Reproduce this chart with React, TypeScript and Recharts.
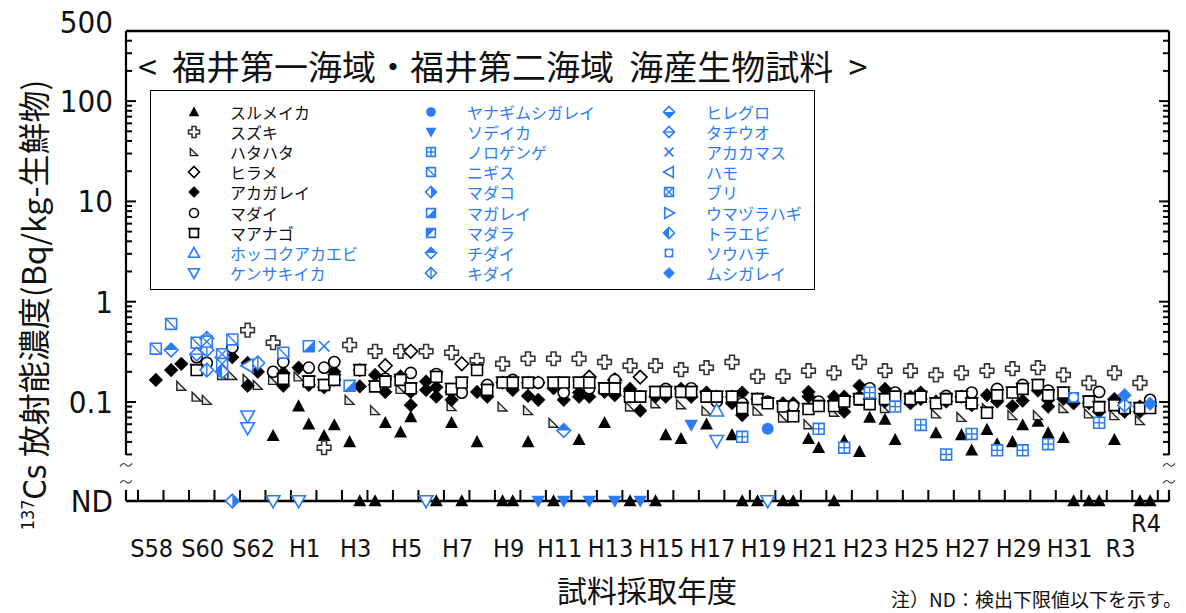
import React from "react";
import { ScatterChart, Scatter, XAxis, YAxis, ReferenceLine, ReferenceDot } from "recharts";

// [fiscal year, half (1 = first half, 2 = second half), Bq/kg or ND]
const ND = "ND";
type Pt = [number, number, number | string];

const surumeika: Pt[] = [
  [1988,1,0.046],[1989,1,0.091],[1989,2,0.06],[1990,1,0.046],[1990,2,0.059],[1991,1,0.04],[1991,2,ND],
  [1992,1,ND],[1992,2,0.062],[1993,1,0.05],[1993,2,0.071],[1994,2,ND],[1995,1,0.062],[1995,2,ND],
  [1996,1,0.04],[1997,1,ND],[1997,2,ND],[1998,1,0.04],[1999,1,ND],[2000,1,0.042],[2001,1,0.062],
  [2002,1,ND],[2003,1,ND],[2003,2,0.047],[2004,1,0.043],[2005,1,0.06],[2006,1,0.047],[2006,2,ND],
  [2007,1,ND],[2008,1,ND],[2008,2,ND],[2009,1,0.043],[2009,2,0.035],[2010,1,ND],[2010,2,0.041],
  [2011,1,0.032],[2011,2,0.07],[2012,1,0.067],[2012,2,0.042],[2014,1,0.049],[2015,1,0.047],[2015,2,0.033],
  [2016,1,0.053],[2016,2,0.038],[2017,1,0.04],[2017,2,0.059],[2018,1,0.064],[2018,2,0.049],[2019,1,0.044],
  [2019,2,ND],[2020,1,ND],[2020,2,ND],[2021,1,0.042],[2022,1,ND],[2022,2,ND],
];
const suzuki: Pt[] = [
  [1987,1,0.52],[1988,1,0.39],[1990,1,0.035],[1991,1,0.37],[1992,1,0.32],[1993,1,0.32],[1994,1,0.32],
  [1995,1,0.31],[1996,1,0.26],[1997,1,0.24],[1998,1,0.27],[1999,1,0.27],[2000,1,0.27],[2001,1,0.25],
  [2002,1,0.23],[2003,1,0.23],[2004,1,0.21],[2005,1,0.22],[2006,1,0.25],[2007,1,0.18],[2008,1,0.18],
  [2009,1,0.205],[2010,1,0.195],[2011,1,0.25],[2012,1,0.205],[2013,1,0.205],[2014,1,0.186],[2015,1,0.195],
  [2016,1,0.205],[2017,1,0.215],[2018,1,0.22],[2019,1,0.186],[2020,1,0.155],[2021,1,0.195],[2022,1,0.155],
];
const hatahata: Pt[] = [
  [1984,2,0.145],[1985,1,0.113],[1985,2,0.105],[1986,1,0.186],[1986,2,0.186],[1987,1,0.17],[1987,2,0.148],
  [1988,1,0.166],[1989,1,0.18],[1991,1,0.105],[1992,1,0.083],[1993,1,0.135],[1995,1,0.091],[1997,1,0.09],
  [1998,1,0.083],[1999,1,0.062],[2002,1,0.09],[2003,1,0.097],[2004,1,0.095],[2005,1,0.082],[2007,1,0.082],
  [2008,1,0.07],[2009,1,0.06],[2010,1,0.08],[2011,1,0.103],[2012,1,0.087],[2014,1,0.077],[2015,1,0.071],
  [2016,1,0.087],[2017,1,0.074],[2018,1,0.074],[2019,1,0.087],[2020,1,0.077],[2021,1,0.074],[2022,1,0.066],
];
const hirame: Pt[] = [[1992,2,0.23],[1993,2,0.32],[1995,2,0.24],[2000,2,0.177],[2001,2,0.166],[2002,2,0.177]];
const akagarei: Pt[] = [
  [1983,2,0.166],[1984,1,0.208],[1984,2,0.24],[1986,2,0.28],[1987,1,0.245],[1987,1,0.145],[1987,2,0.2],
  [1988,2,0.195],[1988,2,0.145],[1989,1,0.22],[1989,2,0.148],[1990,1,0.14],[1990,2,0.2],[1990,2,0.166],
  [1991,2,0.208],[1991,2,0.143],[1992,1,0.186],[1992,1,0.148],[1992,2,0.126],[1993,1,0.18],[1993,2,0.126],
  [1993,2,0.093],[1994,1,0.16],[1994,1,0.132],[1994,2,0.14],[1994,2,0.113],[1995,1,0.126],[1995,1,0.105],
  [1996,1,0.126],[1996,2,0.113],[1997,1,0.156],[1997,2,0.132],[1998,1,0.156],[1998,1,0.115],[1998,2,0.156],
  [1998,2,0.105],[1999,1,0.137],[1999,2,0.105],[2000,1,0.124],[2000,1,0.113],[2000,2,0.113],[2001,1,0.126],
  [2001,2,0.117],[2002,1,0.135],[2002,1,0.113],[2002,2,0.082],[2003,1,0.113],[2003,2,0.113],[2004,1,0.135],
  [2004,2,0.113],[2005,1,0.124],[2005,2,0.113],[2006,1,0.113],[2006,1,0.097],[2006,2,0.124],[2006,2,0.074],
  [2007,1,0.107],[2008,1,0.097],[2008,2,0.097],[2009,1,0.126],[2009,1,0.113],[2010,1,0.113],[2010,1,0.101],
  [2010,2,0.113],[2010,2,0.08],[2011,1,0.145],[2011,1,0.113],[2012,1,0.135],[2012,1,0.101],[2013,1,0.113],
  [2013,1,0.097],[2013,2,0.124],[2013,2,0.107],[2014,1,0.101],[2014,2,0.101],[2015,1,0.113],[2015,2,0.093],
  [2016,1,0.117],[2016,2,0.101],[2017,1,0.091],[2017,2,0.103],[2018,1,0.13],[2018,2,0.105],[2018,2,0.09],
  [2019,1,0.107],[2019,2,0.097],[2020,1,0.097],[2020,2,0.08],[2021,1,0.107],[2021,2,0.08],[2022,1,0.09],
  [2022,1,0.08],[2022,2,0.091],
];
const madai: Pt[] = [
  [1985,1,0.28],[1985,2,0.245],[1986,2,0.35],[1988,1,0.2],[1988,2,0.25],[1989,2,0.22],[1990,1,0.22],
  [1990,2,0.25],[1992,2,0.17],[1993,2,0.195],[1994,2,0.19],[1995,2,0.124],[1996,2,0.148],[1997,2,0.166],
  [1998,2,0.156],[1999,2,0.124],[2000,2,0.137],[2001,2,0.166],[2002,2,0.113],[2003,2,0.135],[2004,2,0.137],
  [2005,2,0.101],[2006,2,0.097],[2007,2,0.101],[2008,2,0.091],[2009,2,0.101],[2010,2,0.101],[2011,2,0.137],
  [2012,2,0.124],[2013,2,0.113],[2014,2,0.115],[2015,2,0.124],[2016,2,0.135],[2017,2,0.148],[2018,2,0.13],
  [2020,2,0.126],[2022,2,0.105],
];
const maanago: Pt[] = [
  [1985,1,0.208],[1988,2,0.17],[1989,2,0.16],[1990,1,0.148],[1990,2,0.166],[1991,2,0.208],[1992,1,0.143],
  [1992,2,0.16],[1993,1,0.166],[1993,2,0.137],[1994,2,0.178],[1995,1,0.135],[1995,2,0.156],[1996,1,0.208],
  [1996,2,0.132],[1997,1,0.156],[1997,2,0.156],[1998,1,0.156],[1999,1,0.156],[1999,2,0.156],[2000,1,0.156],
  [2000,2,0.156],[2001,1,0.137],[2001,2,0.137],[2002,1,0.113],[2002,2,0.113],[2003,1,0.126],[2003,2,0.126],
  [2004,1,0.126],[2004,2,0.126],[2005,1,0.113],[2005,2,0.113],[2006,1,0.113],[2006,2,0.087],[2007,1,0.107],
  [2007,2,0.097],[2008,1,0.09],[2008,2,0.072],[2009,1,0.085],[2009,2,0.091],[2010,1,0.091],[2010,2,0.101],
  [2011,1,0.107],[2011,2,0.095],[2012,1,0.107],[2012,2,0.113],[2013,1,0.107],[2013,2,0.113],[2014,1,0.097],
  [2014,2,0.107],[2015,1,0.113],[2015,2,0.097],[2016,1,0.078],[2016,2,0.117],[2017,1,0.124],[2017,2,0.135],
  [2018,1,0.148],[2018,2,0.117],[2019,1,0.124],[2020,1,0.101],[2020,2,0.089],[2021,1,0.093],[2021,2,0.087],
  [2022,1,0.087],[2022,2,0.087],
];
const hokkokuakaebi: Pt[] = [[2005,2,0.082]];
const kensakiika: Pt[] = [[1987,1,0.072],[1987,1,0.055],[1988,1,ND],[1989,1,ND],[1994,1,ND],[2005,2,0.041],[2007,2,ND]];
const yanagimushigarei: Pt[] = [[2007,2,0.054]];
const sodeika: Pt[] = [[1998,2,ND],[1999,2,ND],[2000,2,ND],[2001,2,ND],[2002,2,ND],[2004,2,0.059]];
const norogenge: Pt[] = [
  [2006,2,0.045],[2009,2,0.054],[2010,2,0.035],[2011,2,0.124],[2012,2,0.09],[2013,2,0.059],[2014,2,0.03],
  [2015,2,0.048],[2016,2,0.033],[2017,2,0.033],[2018,2,0.038],[2020,2,0.062],
];
const nigisu: Pt[] = [[1983,2,0.34],[1984,1,0.6],[1985,1,0.39],[1986,2,0.42],[1988,2,0.31]];
const madako: Pt[] = [[1986,2,ND]];
const magarei: Pt[] = [[1989,2,0.36],[1991,1,0.145]];
const madara: Pt[] = [];
const chidai: Pt[] = [[1984,1,0.33],[1999,2,0.052]];
const kidai: Pt[] = [[1985,2,0.43],[1985,2,0.33],[1985,2,0.208],[1986,1,0.28],[1987,2,0.245],[2021,2,0.093]];
const hireguro: Pt[] = [];
const tachiuo: Pt[] = [[1985,1,0.3]];
const akakamasu: Pt[] = [[1990,1,0.36]];
const hamo: Pt[] = [[1987,1,0.23]];
const buri: Pt[] = [[1985,2,0.4],[1986,1,0.3],[1986,1,0.24]];
const umazurahagi: Pt[] = [];
const toraebi: Pt[] = [[1986,1,0.2]];
const souhachi: Pt[] = [[2019,2,0.111]];
const mushigarei: Pt[] = [[2021,2,0.117],[2022,2,0.096]];

const LABEL_YEARS = [1983,1985,1987,1989,1991,1993,1995,1997,1999,2001,2003,2005,2007,2009,2011,2013,2015,2017,2019,2021,2022];
const Y_MAJOR = [100, 10, 1, 0.1];
const Y_MINOR = [400,300,200,90,80,70,60,50,40,30,20,9,8,7,6,5,4,3,2,0.9,0.8,0.7,0.6,0.5,0.4,0.3,0.2,0.09,0.08,0.07,0.06,0.05,0.04,0.03];

const BLUE = "#2b7cf6";
const CJK = "'Noto Sans CJK JP', 'Noto Sans', sans-serif";
const NARROW = "'Liberation Sans Narrow', 'DejaVu Sans Condensed', sans-serif";

// axis layout (log axis, ND row sits below a break)
const X_MIN = 1982.53, X_MAX = 2023.44;
const Y_TOP = 500, ND_Y = 0.0103, AXIS_LOW = 0.0296, STUB_TOP = 0.0133;
const TILDES = [0.0236, 0.016];

const SPECIES = [
  { name: "スルメイカ", kind: "triUp", color: "#000", data: surumeika },
  { name: "スズキ", kind: "plus", color: "#000", data: suzuki },
  { name: "ハタハタ", kind: "rightTri", color: "#000", data: hatahata },
  { name: "ヒラメ", kind: "diamondOpen", color: "#000", data: hirame },
  { name: "アカガレイ", kind: "diamondFill", color: "#000", data: akagarei },
  { name: "マダイ", kind: "circleOpen", color: "#000", data: madai },
  { name: "マアナゴ", kind: "squareOpen", color: "#000", data: maanago },
  { name: "ホッコクアカエビ", kind: "triUpOpen", color: BLUE, data: hokkokuakaebi },
  { name: "ケンサキイカ", kind: "triDownOpen", color: BLUE, data: kensakiika },
  { name: "ヤナギムシガレイ", kind: "circleFill", color: BLUE, data: yanagimushigarei },
  { name: "ソデイカ", kind: "triDownFill", color: BLUE, data: sodeika },
  { name: "ノロゲンゲ", kind: "squareGrid", color: BLUE, data: norogenge },
  { name: "ニギス", kind: "squareSlash", color: BLUE, data: nigisu },
  { name: "マダコ", kind: "diamondRightHalf", color: BLUE, data: madako },
  { name: "マガレイ", kind: "squareLRHalf", color: BLUE, data: magarei },
  { name: "マダラ", kind: "squareULHalf", color: BLUE, data: madara },
  { name: "チダイ", kind: "diamondTopHalf", color: BLUE, data: chidai },
  { name: "キダイ", kind: "diamondVLine", color: BLUE, data: kidai },
  { name: "ヒレグロ", kind: "diamondBottomHalf", color: BLUE, data: hireguro },
  { name: "タチウオ", kind: "diamondHLine", color: BLUE, data: tachiuo },
  { name: "アカカマス", kind: "cross", color: BLUE, data: akakamasu },
  { name: "ハモ", kind: "triLeftOpen", color: BLUE, data: hamo },
  { name: "ブリ", kind: "squareX", color: BLUE, data: buri },
  { name: "ウマヅラハギ", kind: "triRightOpen", color: BLUE, data: umazurahagi },
  { name: "トラエビ", kind: "diamondLeftHalf", color: BLUE, data: toraebi },
  { name: "ソウハチ", kind: "squareCircle", color: BLUE, data: souhachi },
  { name: "ムシガレイ", kind: "diamondFill", color: BLUE, data: mushigarei },
];

const toRows = (pts: Pt[]) =>
  pts.map(([yr, half, v]) => ({ x: yr + (half === 1 ? 0.3 : 0.7), y: v === ND ? ND_Y : (v as number) }));

const era = (y: number) => (y < 1989 ? `S${y - 1925}` : y <= 2019 ? `H${y - 1988}` : `R${y - 2018}`);

function Marker({ kind, cx, cy, s, color }: any) {
  const d = (p: number[][]) => "M" + p.map((q) => q.join(",")).join(" L") + " Z";
  const o = { fill: "#fff", stroke: color, strokeWidth: 1.6 };
  const ln = { stroke: color, strokeWidth: 1.4 };
  const dia = d([[cx, cy - s], [cx + s, cy], [cx, cy + s], [cx - s, cy]]);
  const h = s * 0.8;
  const sq = d([[cx - h, cy - h], [cx + h, cy - h], [cx + h, cy + h], [cx - h, cy + h]]);
  const t = s * 0.78;
  switch (kind) {
    case "triUp":
      return <path d={d([[cx, cy - s], [cx + s * 0.95, cy + t], [cx - s * 0.95, cy + t]])} fill={color} />;
    case "triUpOpen":
      return <path d={d([[cx, cy - s], [cx + s, cy + t], [cx - s, cy + t]])} {...o} />;
    case "triDownOpen":
      return <path d={d([[cx - s, cy - t], [cx + s, cy - t], [cx, cy + s]])} {...o} />;
    case "triDownFill":
      return <path d={d([[cx - s, cy - t], [cx + s, cy - t], [cx, cy + s]])} fill={color} />;
    case "triLeftOpen":
      return <path d={d([[cx - s, cy], [cx + t, cy - s], [cx + t, cy + s]])} {...o} />;
    case "triRightOpen":
      return <path d={d([[cx + s, cy], [cx - t, cy - s], [cx - t, cy + s]])} {...o} />;
    case "rightTri": {
      const r = s * 0.66;
      return <path d={d([[cx - r, cy - r], [cx - r, cy + r], [cx + r, cy + r]])} fill="#e8e8e8" stroke="#222" strokeWidth={1.4} />;
    }
    case "plus": {
      const a = s * 0.36;
      return (
        <path
          d={d([[cx - a, cy - s], [cx + a, cy - s], [cx + a, cy - a], [cx + s, cy - a], [cx + s, cy + a], [cx + a, cy + a],
            [cx + a, cy + s], [cx - a, cy + s], [cx - a, cy + a], [cx - s, cy + a], [cx - s, cy - a], [cx - a, cy - a]])}
          fill="#fff" stroke="#333" strokeWidth={1.6}
        />
      );
    }
    case "diamondOpen":
      return <path d={dia} {...o} />;
    case "diamondFill":
      return <path d={dia} fill={color} stroke={color} strokeWidth={0.6} />;
    case "circleOpen":
      return <circle cx={cx} cy={cy} r={s * 0.82} {...o} />;
    case "circleFill":
      return <circle cx={cx} cy={cy} r={s * 0.88} fill={color} />;
    case "squareOpen":
      return (
        <g>
          <path d={sq} {...o} />
          <line x1={cx - h - 1.5} x2={cx + h + 1.5} y1={cy - h} y2={cy - h} {...ln} />
        </g>
      );
    case "squareGrid":
      return (
        <g>
          <path d={sq} {...o} />
          <line x1={cx} x2={cx} y1={cy - h} y2={cy + h} {...ln} />
          <line x1={cx - h} x2={cx + h} y1={cy} y2={cy} {...ln} />
        </g>
      );
    case "squareSlash":
      return (
        <g>
          <path d={sq} {...o} />
          <line x1={cx - h} x2={cx + h} y1={cy - h} y2={cy + h} {...ln} />
        </g>
      );
    case "squareX":
      return (
        <g>
          <path d={sq} {...o} />
          <line x1={cx - h} x2={cx + h} y1={cy - h} y2={cy + h} {...ln} />
          <line x1={cx - h} x2={cx + h} y1={cy + h} y2={cy - h} {...ln} />
        </g>
      );
    case "squareLRHalf":
      return (
        <g>
          <path d={sq} {...o} />
          <path d={d([[cx + h, cy - h], [cx + h, cy + h], [cx - h, cy + h]])} fill={color} />
        </g>
      );
    case "squareULHalf":
      return (
        <g>
          <path d={sq} {...o} />
          <path d={d([[cx - h, cy - h], [cx + h, cy - h], [cx - h, cy + h]])} fill={color} />
        </g>
      );
    case "squareCircle":
      return (
        <g>
          <path d={sq} fill={color} />
          <circle cx={cx} cy={cy} r={h * 0.72} fill="#fff" />
        </g>
      );
    case "diamondRightHalf":
    case "diamondLeftHalf":
    case "diamondTopHalf":
    case "diamondBottomHalf": {
      const half =
        kind === "diamondRightHalf" ? [[cx, cy - s], [cx + s, cy], [cx, cy + s]]
        : kind === "diamondLeftHalf" ? [[cx, cy - s], [cx - s, cy], [cx, cy + s]]
        : kind === "diamondTopHalf" ? [[cx - s, cy], [cx, cy - s], [cx + s, cy]]
        : [[cx - s, cy], [cx, cy + s], [cx + s, cy]];
      return (
        <g>
          <path d={dia} {...o} />
          <path d={d(half)} fill={color} />
        </g>
      );
    }
    case "diamondVLine":
      return (
        <g>
          <path d={dia} {...o} />
          <line x1={cx} x2={cx} y1={cy - s} y2={cy + s} {...ln} />
        </g>
      );
    case "diamondHLine":
      return (
        <g>
          <path d={dia} {...o} />
          <line x1={cx - s} x2={cx + s} y1={cy} y2={cy} {...ln} />
        </g>
      );
    case "cross": {
      const c = s * 0.8;
      return (
        <g>
          <line x1={cx - c} x2={cx + c} y1={cy - c} y2={cy + c} stroke={color} strokeWidth={1.6} />
          <line x1={cx - c} x2={cx + c} y1={cy + c} y2={cy - c} stroke={color} strokeWidth={1.6} />
        </g>
      );
    }
    default:
      return null;
  }
}

const XTick = ({ x, y, payload }: any) => {
  const yr = Math.floor(payload.value);
  return (
    <text x={x + 1} y={y + (yr === 2022 ? 20 : 45)} textAnchor="middle" dominantBaseline="central"
      fontFamily={NARROW} fontSize={25} fill="#111">
      {era(yr)}
    </text>
  );
};

const YTick = ({ x, y, payload }: any) => {
  const v = payload.value;
  const label = v === ND_Y ? "ND" : String(v);
  return (
    <text x={x} y={y + (v === Y_TOP ? -9 : 0)} textAnchor="end" dominantBaseline="central"
      fontFamily={NARROW} fontSize={31} fill="#111">
      {label}
    </text>
  );
};

const tilde = (p: any) => {
  const { cx, cy } = p;
  return (
    <path d={`M${cx - 6},${cy + 1.5} C${cx - 3},${cy - 3} ${cx - 1},${cy - 1} ${cx},${cy} S${cx + 3},${cy + 3} ${cx + 6},${cy - 1.5}`}
      fill="none" stroke="#333" strokeWidth={1.1} />
  );
};

const seg = (x1: number, y1: number, x2: number, y2: number, w: number, key: string) => (
  <ReferenceLine key={key} segment={[{ x: x1, y: y1 }, { x: x2, y: y2 }]} stroke="#000" strokeWidth={w} ifOverflow="visible" />
);

export default function App() {
  const yearTicks = Array.from({ length: 41 }, (_, i) => 1983 + i);
  const MAJ = 0.39, MIN = 0.235, BOT = ND_Y * 1.287;
  return (
    <div style={{ position: "absolute", left: 0, top: 0, width: 1186, height: 613, background: "#fff", fontFamily: CJK }}>
      <ScatterChart width={1186} height={613} margin={{ top: 31, right: 17, bottom: 52, left: 0 }}>
        <XAxis type="number" dataKey="x" domain={[X_MIN, X_MAX]} ticks={LABEL_YEARS.map((y) => y + 0.5)}
          interval={0} tick={<XTick />} axisLine={false} tickLine={false} tickSize={0} height={60} />
        <YAxis type="number" dataKey="y" scale="log" domain={[ND_Y, Y_TOP]} ticks={[ND_Y, 0.1, 1, 10, 100, Y_TOP]}
          interval={0} tick={<YTick />} axisLine={false} tickLine={false} tickSize={0} tickMargin={13} width={126} />

        {seg(X_MIN, Y_TOP, X_MAX, Y_TOP, 2.5, "top")}
        {seg(X_MIN, ND_Y, X_MAX, ND_Y, 2.5, "bottom")}
        {seg(X_MIN, AXIS_LOW, X_MIN, Y_TOP, 2.2, "left")}
        {seg(X_MAX, AXIS_LOW, X_MAX, Y_TOP, 2.2, "right")}
        {seg(X_MIN, ND_Y, X_MIN, STUB_TOP, 2.2, "leftStub")}
        {seg(X_MAX, ND_Y, X_MAX, STUB_TOP, 2.2, "rightStub")}
        {Y_MAJOR.map((v) => seg(X_MIN, v, X_MIN + MAJ, v, 2, `lM${v}`))}
        {Y_MAJOR.map((v) => seg(X_MAX - MAJ, v, X_MAX, v, 2, `rM${v}`))}
        {Y_MINOR.map((v) => seg(X_MIN, v, X_MIN + MIN, v, 2, `lm${v}`))}
        {Y_MINOR.map((v) => seg(X_MAX - MIN, v, X_MAX, v, 2, `rm${v}`))}
        {yearTicks.map((yr) => seg(yr, ND_Y, yr, BOT, 2, `b${yr}`))}
        {TILDES.map((v) => (
          <ReferenceDot key={`tl${v}`} x={X_MIN} y={v} ifOverflow="visible" shape={tilde} />
        ))}
        {TILDES.map((v) => (
          <ReferenceDot key={`tr${v}`} x={X_MAX} y={v} ifOverflow="visible" shape={tilde} />
        ))}

        {SPECIES.map((sp) => (
          <Scatter key={sp.name} name={sp.name} data={toRows(sp.data)} isAnimationActive={false}
            shape={(p: any) => <Marker kind={sp.kind} cx={p.cx} cy={p.cy} s={6.8} color={sp.color} />} />
        ))}
      </ScatterChart>

      <div style={{ position: "absolute", left: 138, top: 46, fontSize: 34, lineHeight: "40px", whiteSpace: "pre", color: "#111" }}>
        {"<  福井第一海域・福井第二海域  海産生物試料  >"}
      </div>

      <div style={{ position: "absolute", left: 150, top: 90, width: 663, height: 198, border: "1.5px solid #000", background: "#fff" }}>
        {SPECIES.map((sp, i) => {
          const col = Math.floor(i / 9), row = i % 9;
          const mx = [43, 280, 518][col], tx = [79, 316, 555][col];
          const cy = 21 + row * 20.1;
          return (
            <React.Fragment key={sp.name}>
              <svg width={16} height={16} style={{ position: "absolute", left: mx - 8, top: cy - 8 }}>
                <Marker kind={sp.kind} cx={8} cy={8} s={5.5} color={sp.color} />
              </svg>
              <div style={{ position: "absolute", left: tx, top: cy - 8, fontSize: 16, lineHeight: "16px", whiteSpace: "nowrap",
                color: sp.color === "#000" ? "#111" : BLUE }}>
                {sp.name}
              </div>
            </React.Fragment>
          );
        })}
      </div>

      <div style={{ position: "absolute", left: 32, top: 305, transform: "translate(-50%, -50%) rotate(-90deg)", whiteSpace: "nowrap",
        fontSize: 32, color: "#111" }}>
        <span style={{ fontSize: 18, verticalAlign: "super", fontFamily: NARROW }}>137</span>
        <span style={{ fontFamily: NARROW }}>Cs</span>
        {"  放射能濃度(Bq/kg-生鮮物)"}
      </div>

      <div style={{ position: "absolute", left: 647, top: 589, transform: "translate(-50%, -50%)", whiteSpace: "nowrap", fontSize: 30, color: "#111" }}>
        試料採取年度
      </div>
      <div style={{ position: "absolute", right: 4, top: 598, transform: "translateY(-50%)", whiteSpace: "nowrap", fontSize: 19, color: "#111" }}>
        注）ND：検出下限値以下を示す。
      </div>
    </div>
  );
}
